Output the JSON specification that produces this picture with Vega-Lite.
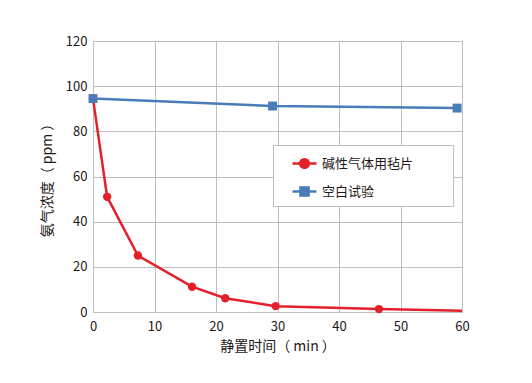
{
  "$schema": "https://vega.github.io/schema/vega-lite/v6.json",
  "width": 369,
  "height": 271,
  "autosize": "none",
  "padding": {"left": 93, "top": 41, "right": 70, "bottom": 71},
  "background": "white",
  "config": {
    "font": "Noto Sans CJK SC",
    "view": {"stroke": "#bfbfbf", "strokeWidth": 1},
    "axis": {
      "grid": true,
      "gridColor": "#bfbfbf",
      "gridWidth": 1,
      "domain": false,
      "ticks": false,
      "labelFont": "Noto Sans CJK SC",
      "labelFontSize": 13,
      "labelColor": "#231815",
      "titleFont": "Noto Sans CJK SC",
      "titleFontSize": 14,
      "titleFontWeight": "normal",
      "titleColor": "#231815"
    }
  },
  "data": {
    "values": [
      {"series": "碱性气体用毡片", "t": 0, "c": 94.5},
      {"series": "碱性气体用毡片", "t": 2.3, "c": 51},
      {"series": "碱性气体用毡片", "t": 7.3, "c": 25},
      {"series": "碱性气体用毡片", "t": 16.1, "c": 11.2},
      {"series": "碱性气体用毡片", "t": 21.5, "c": 6.1},
      {"series": "碱性气体用毡片", "t": 29.7, "c": 2.6},
      {"series": "碱性气体用毡片", "t": 46.5, "c": 1.3},
      {"series": "碱性气体用毡片", "t": 60, "c": 0.5},
      {"series": "空白试验", "t": 0, "c": 94.5},
      {"series": "空白试验", "t": 29.2, "c": 91.2},
      {"series": "空白试验", "t": 59.2, "c": 90.3}
    ]
  },
  "encoding": {
    "x": {
      "field": "t", "type": "quantitative",
      "scale": {"domain": [0, 60], "nice": false},
      "axis": {"values": [0, 10, 20, 30, 40, 50, 60], "labelPadding": 8, "titlePadding": 6, "title": "静置时间（ min ）", "labelFlush": false}
    },
    "y": {
      "field": "c", "type": "quantitative",
      "scale": {"domain": [0, 120], "nice": false},
      "axis": {"values": [0, 20, 40, 60, 80, 100, 120], "labelPadding": 6, "titlePadding": 11, "title": "氨气浓度（ ppm ）"}
    },
    "color": {
      "field": "series", "type": "nominal",
      "scale": {"domain": ["碱性气体用毡片", "空白试验"], "range": ["#e4202a", "#4a7cb8"]},
      "legend": {
        "orient": "none",
        "legendX": 180,
        "legendY": 104,
        "title": null,
        "strokeColor": "#bfbfbf",
        "fillColor": "white",
        "padding": 5,
        "symbolSize": 576,
        "symbolStrokeWidth": 2.5,
        "symbolOffset": 13,
        "labelFont": "Noto Sans CJK SC",
        "labelFontSize": 13,
        "labelColor": "#231815",
        "labelOffset": 4,
        "rowPadding": 5,
        "labelExpr": "datum.label + '\u3000\u3000\u00a0\u00a0\u00a0\u200b'",
        "encode": {
          "symbols": {
            "update": {
              "shape": {"signal": "datum.value === '碱性气体用毡片' ? 'M-1,0H1M-0.36,0A0.36,0.36,0,1,1,0.36,0A0.36,0.36,0,1,1,-0.36,0Z' : 'M-1,0H1M-0.34,-0.34H0.34V0.34H-0.34Z'"},
              "fill": {"scale": "color", "field": "value"},
              "stroke": {"scale": "color", "field": "value"},
              "opacity": {"value": 1}
            }
          }
        }
      }
    }
  },
  "layer": [
    {
      "mark": {"type": "line", "strokeWidth": 2.5}
    },
    {
      "transform": [{"filter": "datum.series === '碱性气体用毡片' && datum.t < 60"}],
      "mark": {"type": "point", "shape": "circle", "filled": true, "opacity": 1, "size": 70}
    },
    {
      "transform": [{"filter": "datum.series === '空白试验'"}],
      "mark": {"type": "point", "shape": "square", "filled": true, "opacity": 1, "size": 80}
    }
  ]
}
